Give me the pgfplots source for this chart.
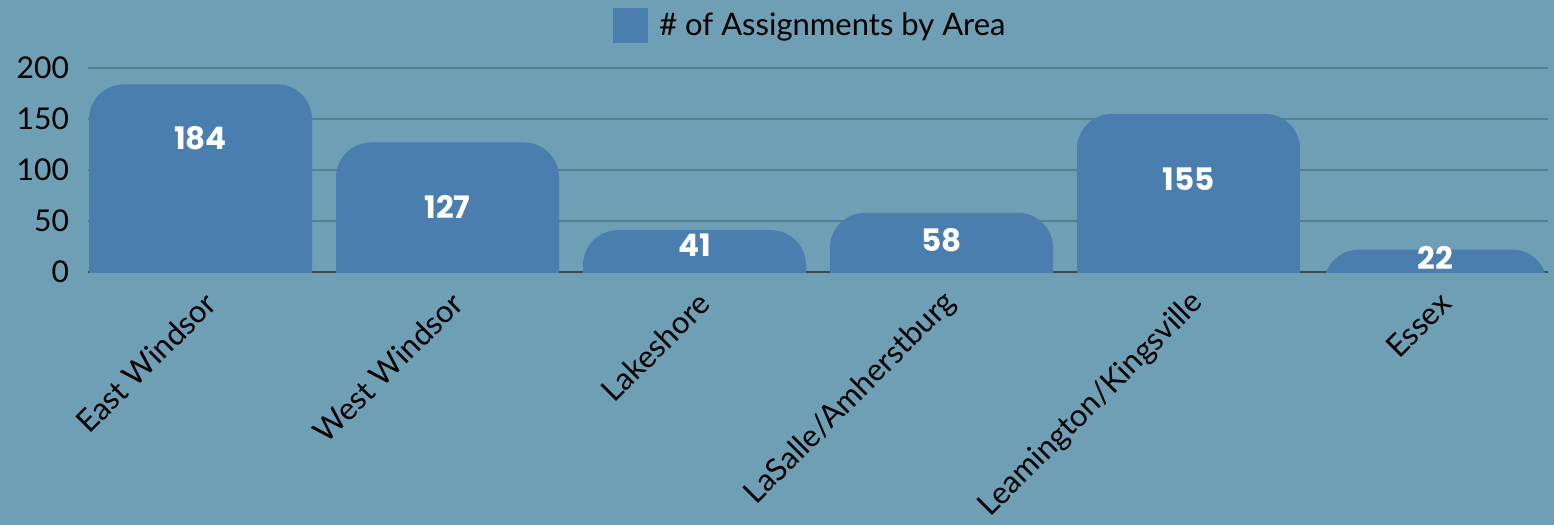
\documentclass[border=0pt]{standalone}
\usepackage{fontspec}
\setmainfont{Lato}
\newfontfamily\popb{Poppins}
\usepackage{pgfplots}
\pgfplotsset{compat=1.18}
\definecolor{bg}{HTML}{6E9FB4}
\definecolor{barc}{HTML}{4A7EAE}
\definecolor{gridc}{HTML}{55808F}
\definecolor{axc}{HTML}{3D4B52}
\begin{document}
\begin{tikzpicture}
\fill[bg] (-44pt,-126.5pt) rectangle (733pt,136pt);
\useasboundingbox (-44pt,-126.5pt) rectangle (733pt,136pt);
\begin{axis}[
  scale only axis,
  width=730pt, height=102pt,
  xmin=-0.4555, xmax=5.4555,
  ymin=0, ymax=200,
  axis x line*=bottom, axis y line*=left,
  y axis line style={draw=none},
  x axis line style={-, draw=axc, line width=0.8pt},
  major tick length=0pt,
  ytick={0,50,100,150,200},
  yticklabels={0,50,100,150,200},
  yticklabel style={font=\fontsize{15}{17}\selectfont, text=black, xshift=-6pt},
  xtick={0,1,2,3,4,5},
  xticklabels={East Windsor, West Windsor, Lakeshore, LaSalle/Amherstburg, Leamington/Kingsville, Essex},
  xticklabel style={font=\fontsize{15.5}{17}\selectfont, text=black, xshift=5pt, yshift=-13pt, rotate=45, anchor=east, inner sep=0pt},
  ymajorgrids,
  grid style={line width=0.75pt, draw=gridc},
  legend style={at={(0.4955,1.2083)}, anchor=center, draw=none, fill=none,
    font=\fontsize{15.5}{18}\selectfont, inner sep=0pt,
    legend cell align=left},
  every axis plot/.append style={fill=barc, draw=none, rounded corners=17.5pt},
]
\addplot[legend image code/.code={\fill[barc, sharp corners] (0pt,-8.75pt) rectangle (17.5pt,8.75pt); \path (0pt,0pt) -- (21pt,0pt);}]
  coordinates {(-0.4514,-40) (-0.4514,184) (0.4514,184) (0.4514,-40)} -- cycle;
\addlegendentry{\# of Assignments by Area}
\addplot[forget plot] coordinates {(0.5486,-40) (0.5486,127) (1.4514,127) (1.4514,-40)} -- cycle;
\addplot[forget plot] coordinates {(1.5486,-40) (1.5486,41) (2.4514,41) (2.4514,-40)} -- cycle;
\addplot[forget plot] coordinates {(2.5486,-40) (2.5486,58) (3.4514,58) (3.4514,-40)} -- cycle;
\addplot[forget plot] coordinates {(3.5486,-40) (3.5486,155) (4.4514,155) (4.4514,-40)} -- cycle;
\addplot[forget plot] coordinates {(4.5486,-40) (4.5486,22) (5.4514,22) (5.4514,-40)} -- cycle;
\addplot[only marks, mark=none, forget plot, fill=none, nodes near coords, point meta=explicit symbolic,
  nodes near coords style={anchor=center, inner sep=0pt, text=white, font=\popb\bfseries\fontsize{15.5}{17}\selectfont}]
  coordinates {(0,131) [184] (1,64) [127] (2,26.5) [41] (3,31.4) [58] (4,91.2) [155] (5,13.7) [22]};
\end{axis}
\end{tikzpicture}
\end{document}
